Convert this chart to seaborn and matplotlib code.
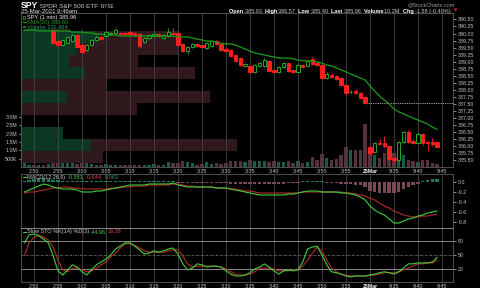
import numpy as np
import matplotlib
matplotlib.use("Agg")
import matplotlib.pyplot as plt
import matplotlib.transforms as mtrans
from matplotlib.patches import Rectangle
import seaborn as sns

# ---------------- data ----------------
tick_labels = ["2:50", "2:55", "3:00", "3:05", "3:10", "3:15", "3:20", "3:25", "3:30",
               "3:35", "3:40", "3:45", "3:50", "3:55", "25Mar", "9:35", "9:40", "9:45"]
first_tick_bar = 2
candle_start = 6

opens = [390.12, 389.73, 389.59, 389.66, 389.73, 389.95, 389.59, 389.41, 389.59, 389.77,
         389.88, 389.91, 389.98, 390.02, 390.02, 390.02, 390.05, 390.02, 389.98, 389.70,
         389.84, 389.91, 389.98, 389.84, 389.91, 390.02, 390.02, 389.63, 389.38, 389.52,
         389.63, 389.59, 389.49, 389.56, 389.73, 389.63, 389.45, 389.41, 389.24, 389.13,
         388.85, 388.85, 388.64, 388.85, 388.85, 389.03, 388.71, 388.64, 388.81, 388.95,
         388.71, 388.64, 388.88, 388.85, 389.10, 388.95, 388.88, 388.42, 388.53, 388.49,
         388.42, 388.17, 387.91, 387.96, 387.89, 387.75, 385.98, 385.80, 386.13, 386.10,
         386.00, 385.58, 385.50, 386.17, 386.50, 386.20, 386.13, 386.45, 386.17, 386.15, 386.15]
highs = [390.15, 389.77, 389.80, 389.91, 389.98, 389.98, 389.63, 389.63, 389.80, 389.95,
         389.91, 390.09, 390.05, 390.19, 390.05, 390.05, 390.09, 390.05, 390.02, 389.88,
         389.98, 390.02, 390.02, 389.98, 390.19, 390.19, 390.05, 389.66, 389.56, 389.66,
         389.66, 389.63, 389.70, 389.77, 389.77, 389.66, 389.49, 389.45, 389.27, 389.17,
         388.95, 388.88, 388.92, 388.99, 389.13, 389.06, 388.74, 388.85, 388.99, 388.99,
         388.74, 388.92, 388.92, 389.06, 389.17, 388.99, 388.92, 388.64, 388.60, 388.53,
         388.46, 388.20, 388.00, 388.03, 387.93, 387.78, 386.03, 386.15, 386.25, 386.35,
         386.05, 385.62, 386.20, 386.55, 386.57, 386.25, 386.48, 386.48, 386.20, 386.30, 386.20]
lows = [389.62, 389.55, 389.56, 389.63, 389.70, 389.49, 389.31, 389.38, 389.56, 389.73,
        389.77, 389.88, 389.95, 389.98, 389.95, 389.95, 389.95, 389.91, 389.49, 389.66,
        389.80, 389.88, 389.88, 389.80, 389.88, 389.95, 389.56, 389.34, 389.27, 389.49,
        389.52, 389.49, 389.45, 389.52, 389.59, 389.38, 389.34, 389.17, 388.99, 388.85,
        388.81, 388.60, 388.60, 388.81, 388.81, 388.64, 388.60, 388.60, 388.78, 388.64,
        388.60, 388.60, 388.78, 388.81, 388.88, 388.85, 388.39, 388.39, 388.42, 388.35,
        388.14, 387.86, 387.89, 387.86, 387.68, 387.50, 385.70, 385.75, 386.03, 385.95,
        385.50, 385.40, 385.47, 386.13, 386.13, 386.07, 386.10, 386.05, 385.85, 386.00, 385.93]
closes = [389.66, 389.59, 389.77, 389.88, 389.95, 389.52, 389.34, 389.59, 389.77, 389.88,
          389.80, 390.05, 390.02, 390.12, 389.98, 389.98, 389.98, 389.95, 389.56, 389.84,
          389.95, 389.98, 389.91, 389.95, 390.05, 389.98, 389.59, 389.38, 389.52, 389.63,
          389.56, 389.52, 389.66, 389.73, 389.63, 389.41, 389.38, 389.20, 389.03, 388.88,
          388.92, 388.64, 388.88, 388.95, 389.06, 388.67, 388.64, 388.81, 388.95, 388.67,
          388.64, 388.88, 388.81, 389.03, 388.92, 388.88, 388.42, 388.56, 388.46, 388.39,
          388.17, 387.89, 387.93, 387.89, 387.71, 387.54, 385.77, 386.13, 386.07, 386.00,
          385.55, 385.50, 386.17, 386.52, 386.17, 386.13, 386.45, 386.13, 386.10, 386.07, 385.96]
prev_close = 387.54

early_vol_up = [True, True, False, True, False, True]
volume_k = [270, 150, 150, 150, 150, 190, 350, 310, 290, 310,
            250, 210, 250, 250, 210, 150, 150, 210, 150, 110,
            110, 110, 150, 110, 150, 110, 150, 210, 150, 110,
            290, 250, 250, 350, 310, 250, 150, 210, 290, 190,
            250, 190, 250, 350, 350, 350, 290, 450, 390, 390,
            390, 290, 390, 290, 290, 350, 250, 390, 250, 290,
            610, 450, 790, 550, 450, 490, 750, 1190, 1050, 1010,
            1050, 2610, 1200, 750, 550, 850, 1150, 850, 1050, 750,
            450, 390, 290, 450, 450, 250, 210]

sma20 = [390.12, 390.12, 390.12, 390.09, 390.09, 390.09, 390.09, 390.09, 390.09, 390.09,
         390.05, 390.05, 390.05, 390.02, 390.02, 389.98, 389.98, 389.95, 389.95, 389.95,
         389.91, 389.91, 389.91, 389.91, 389.91, 389.91, 389.91, 389.91, 389.91, 389.91,
         389.91, 389.91, 389.88, 389.88, 389.88, 389.84, 389.80, 389.77, 389.73, 389.73,
         389.70, 389.66, 389.63, 389.63, 389.59, 389.52, 389.45, 389.38, 389.31, 389.27,
         389.24, 389.20, 389.17, 389.13, 389.13, 389.13, 389.10, 389.06, 389.03, 389.03,
         389.03, 388.99, 388.95, 388.88, 388.85, 388.78, 388.71, 388.64, 388.56, 388.49,
         388.42, 388.35, 388.14, 387.96, 387.78, 387.64, 387.50, 387.32, 387.22, 387.15,
         387.07, 387.00, 386.93, 386.86, 386.79, 386.68, 386.60]

vbp_bin_low = [385.400, 385.825, 386.250, 386.675, 387.100, 387.525,
               387.950, 388.375, 388.800, 389.225, 389.650, 390.075]
vbp_bin_size = 0.425
vbp_up_k = [0, 3500, 2100, 0, 0, 2300, 0, 3200, 2400, 2700, 3800, 1500]
vbp_down_k = [4100, 7300, 0, 0, 5800, 7150, 4250, 5500, 3450, 5150, 4050, 1000]

macd_line = [-0.20, -0.16, -0.12, -0.08, -0.04, -0.06, -0.10, -0.12, -0.14, -0.14,
             -0.14, -0.16, -0.20, -0.20, -0.20, -0.18, -0.18, -0.16, -0.14, -0.12,
             -0.10, -0.08, -0.06, -0.06, -0.06, -0.06, -0.04, -0.04, -0.04, -0.04,
             -0.04, -0.02, -0.06, -0.08, -0.10, -0.10, -0.10, -0.10, -0.10, -0.10,
             -0.12, -0.12, -0.12, -0.14, -0.16, -0.18, -0.20, -0.22, -0.24, -0.26,
             -0.26, -0.26, -0.26, -0.26, -0.26, -0.24, -0.24, -0.22, -0.20, -0.18,
             -0.18, -0.18, -0.20, -0.20, -0.20, -0.20, -0.22, -0.22, -0.24, -0.26,
             -0.30, -0.36, -0.48, -0.56, -0.62, -0.66, -0.74, -0.82, -0.82, -0.78,
             -0.74, -0.72, -0.68, -0.66, -0.62, -0.60, -0.581]
macd_signal = [-0.22, -0.20, -0.20, -0.18, -0.16, -0.14, -0.12, -0.12, -0.10, -0.10,
               -0.12, -0.12, -0.14, -0.14, -0.14, -0.14, -0.14, -0.14, -0.12, -0.12,
               -0.12, -0.10, -0.10, -0.08, -0.08, -0.08, -0.06, -0.06, -0.06, -0.06,
               -0.06, -0.04, -0.04, -0.06, -0.08, -0.08, -0.10, -0.10, -0.10, -0.10,
               -0.12, -0.12, -0.12, -0.14, -0.14, -0.16, -0.18, -0.18, -0.20, -0.22,
               -0.22, -0.22, -0.22, -0.22, -0.22, -0.22, -0.22, -0.22, -0.20, -0.20,
               -0.20, -0.20, -0.20, -0.20, -0.20, -0.20, -0.20, -0.22, -0.22, -0.24,
               -0.26, -0.28, -0.32, -0.36, -0.42, -0.48, -0.52, -0.58, -0.62, -0.66,
               -0.68, -0.70, -0.70, -0.68, -0.68, -0.66, -0.644]
macd_hist = [0.03, 0.04, 0.06, 0.08, 0.08, 0.07, 0.04, 0.04, 0.03, 0.03,
             0.03, 0.03, 0.02, 0.02, 0.02, 0.02, 0.02, 0.02, 0.03, 0.03,
             0.03, 0.03, 0.03, 0.03, 0.03, 0.03, 0.03, 0.03, 0.03, 0.03,
             0.03, 0.03, -0.02, -0.02, -0.02, -0.02, -0.02, -0.02, -0.02, -0.02,
             -0.02, -0.02, -0.02, -0.03, -0.03, -0.03, -0.03, -0.03, -0.03, -0.03,
             -0.03, -0.03, -0.03, -0.03, -0.03, -0.02, -0.02, -0.02, 0.02, 0.03,
             0.03, 0.03, 0.02, -0.01, -0.02, -0.02, -0.03, -0.03, -0.04, -0.05,
             -0.06, -0.09, -0.17, -0.20, -0.21, -0.22, -0.22, -0.22, -0.19, -0.14,
             -0.10, -0.06, -0.03, 0.03, 0.05, 0.06, 0.063]

sto_k = [76, 93, 95, 91, 84, 76, 48, 16, 7, 18,
         29, 24, 14, 7, 18, 29, 35, 41, 50, 63,
         69, 76, 76, 69, 61, 52, 54, 59, 56, 59,
         63, 65, 52, 31, 18, 22, 31, 29, 24, 26,
         26, 24, 16, 9, 5, 5, 7, 12, 20, 24,
         31, 24, 16, 9, 16, 18, 16, 18, 35, 63,
         67, 69, 50, 29, 14, 12, 9, 5, 3, 5,
         5, 5, 7, 9, 12, 14, 12, 9, 14, 22,
         31, 31, 33, 33, 33, 35, 44.96]
sto_d = [48, 76, 88, 93, 88, 82, 67, 39, 18, 14,
         22, 22, 18, 14, 16, 22, 29, 35, 46, 54,
         65, 74, 74, 71, 65, 59, 56, 56, 56, 56,
         59, 61, 61, 48, 31, 24, 26, 26, 26, 26,
         26, 24, 20, 14, 9, 7, 7, 9, 14, 22,
         22, 22, 20, 16, 16, 16, 18, 20, 26, 39,
         54, 67, 59, 39, 22, 14, 9, 7, 5, 5,
         5, 5, 7, 7, 9, 12, 12, 12, 14, 18,
         22, 26, 31, 31, 33, 33, 39.28]

# ---------------- style ----------------
RED = "#ff1f1f"
GREEN = "#26b326"
SMA_COL = "#1c9c1c"
LINE_G = "#3fd03f"
LINE_R = "#b32a2a"
GRID = "#454545"
SPINE = "#5a5a5a"
TXT = "#c8c8c8"

sns.set_theme(style="dark", rc={
    "axes.facecolor": "black", "figure.facecolor": "black", "savefig.facecolor": "black",
    "axes.edgecolor": SPINE, "axes.linewidth": 0.6, "text.color": TXT,
    "xtick.color": TXT, "ytick.color": TXT, "axes.grid": False,
})
plt.rcParams["font.family"] = ["Liberation Sans", "DejaVu Sans"]

W, H = 480, 288
fig = plt.figure(figsize=(4.8, 2.88), dpi=100)


def rect(x0, y0, x1, y1):
    return [x0 / W, 1 - y1 / H, (x1 - x0) / W, (y1 - y0) / H]


ax_price = fig.add_axes(rect(21, 13, 453, 167))
ax_vol = ax_price.twinx()
ax_macd = fig.add_axes(rect(21, 174, 453, 228))
ax_sto = fig.add_axes(rect(21, 228, 453, 282))

ax_vol.set_zorder(0)
ax_price.set_zorder(1)
ax_price.patch.set_visible(False)
ax_vol.patch.set_visible(False)

n_bars = len(volume_k)
bar_x = np.arange(n_bars)
candle_x = np.arange(candle_start, candle_start + len(opens))
tick_pos = first_tick_bar + 5 * np.arange(len(tick_labels))
day_break = tick_pos[tick_labels.index("25Mar")]
XLIM = (-0.7, 89.3)

# ---- volume by price (x in axes fraction) ----
vbp_trans = mtrans.blended_transform_factory(ax_price.transAxes, ax_price.transData)
vbp_scale = 2 * max(u + d for u, d in zip(vbp_up_k, vbp_down_k))
up_w = np.array(vbp_up_k) / vbp_scale
dn_w = np.array(vbp_down_k) / vbp_scale
ax_price.barh(vbp_bin_low, up_w, height=vbp_bin_size, left=0, align="edge",
              color="#0c3823", linewidth=0, transform=vbp_trans, zorder=0.2)
ax_price.barh(vbp_bin_low, dn_w, height=vbp_bin_size, left=up_w, align="edge",
              color="#30191d", linewidth=0, transform=vbp_trans, zorder=0.2)

# ---- volume bars ----
up_flags = early_vol_up + [c >= o for o, c in zip(opens, closes)]
vol_cols = ["#1b5c45" if u else "#55323a" for u in up_flags]
ax_vol.bar(bar_x, volume_k, width=0.72, color=vol_cols, linewidth=0)
ax_vol.set_ylim(0, 9240)
ax_vol.set_yticks([500, 1000, 1500, 2000, 2500, 3000])
ax_vol.set_yticklabels(["500K", "1.0M", "1.5M", "2.0M", "2.5M", "3.0M"])
ax_vol.yaxis.tick_left()
ax_vol.tick_params(axis="y", labelsize=3.8, length=1.5, pad=1, colors=TXT, width=0.5)
for s in ax_vol.spines.values():
    s.set_visible(False)
ax_vol.grid(False)

# ---- candles ----
for x, o, h, l, c in zip(candle_x, opens, highs, lows, closes):
    up = c >= o
    col = GREEN if up else RED
    ax_price.vlines(x, l, h, color=col, linewidth=0.6, zorder=3)
    ax_price.bar(x, max(abs(c - o), 0.012), bottom=min(o, c), width=0.7,
                 facecolor="black" if up else RED, edgecolor=col, linewidth=0.65, zorder=4)

sns.lineplot(x=bar_x, y=sma20, ax=ax_price, color=SMA_COL, linewidth=0.9,
             estimator=None, sort=False, legend=False, zorder=5)
ax_price.hlines(prev_close, day_break - 0.4, XLIM[1], colors="#b8b8a8",
                linestyles=(0, (1.5, 1.2)), linewidth=0.6, zorder=2)

ax_price.set_xlim(*XLIM)
ax_price.set_ylim(385.266, 390.727)
ax_price.yaxis.tick_right()
ax_price.set_yticks(np.arange(385.5, 390.51, 0.25))
ax_price.set_yticklabels([f"{v:.2f}" for v in np.arange(385.5, 390.51, 0.25)])
ax_price.set_xticks(tick_pos)
ax_price.set_xticklabels(tick_labels)
ax_price.tick_params(axis="y", labelsize=3.8, length=2, pad=1.2, colors=TXT, width=0.5)
ax_price.tick_params(axis="x", labelsize=3.8, length=0, pad=1.6, colors=TXT)
ax_price.grid(True, axis="x", color=GRID, linewidth=0.6)
ax_price.set_axisbelow(True)
ax_price.set_xlabel("")
ax_price.set_ylabel("")

# ---- MACD ----
hist_cols = ["#1d7a5c" if v >= 0 else "#7a4a52" for v in macd_hist]
ax_macd.bar(bar_x, macd_hist, width=0.7, color=hist_cols, linewidth=0, zorder=2)
sns.lineplot(x=bar_x, y=macd_signal, ax=ax_macd, color=LINE_R, linewidth=0.8,
             estimator=None, sort=False, legend=False, zorder=3)
sns.lineplot(x=bar_x, y=macd_line, ax=ax_macd, color=LINE_G, linewidth=0.8,
             estimator=None, sort=False, legend=False, zorder=4)
ax_macd.set_xlim(*XLIM)
ax_macd.set_ylim(-0.92, 0.16)
ax_macd.yaxis.tick_right()
ax_macd.set_yticks([0.0, -0.2, -0.4, -0.6, -0.8])
ax_macd.set_yticklabels(["0.0", "-0.2", "-0.4", "-0.6", "-0.8"])
ax_macd.set_xticks(tick_pos)
ax_macd.set_xticklabels([])
ax_macd.tick_params(axis="y", labelsize=3.8, length=2, pad=1.2, colors=TXT, width=0.5)
ax_macd.tick_params(axis="x", length=0)
ax_macd.grid(True, axis="x", color=GRID, linewidth=0.6)
ax_macd.set_axisbelow(True)
ax_macd.set_xlabel("")
ax_macd.set_ylabel("")
ax_macd.spines["bottom"].set_color("#9a9a9a")

# ---- Slow stochastic ----
ax_sto.axhline(80, color="#a0a0a0", linewidth=0.6, zorder=1)
ax_sto.axhline(20, color="#a0a0a0", linewidth=0.6, zorder=1)
ax_sto.axhline(50, color="#8a8a8a", linewidth=0.5, linestyle=(0, (3, 1.5, 1, 1.5)), zorder=1)
sns.lineplot(x=bar_x, y=sto_d, ax=ax_sto, color=LINE_R, linewidth=0.8,
             estimator=None, sort=False, legend=False, zorder=3)
sns.lineplot(x=bar_x, y=sto_k, ax=ax_sto, color=LINE_G, linewidth=0.8,
             estimator=None, sort=False, legend=False, zorder=4)
ax_sto.set_xlim(*XLIM)
ax_sto.set_ylim(-7.9, 107.9)
ax_sto.yaxis.tick_right()
ax_sto.set_yticks([20, 50, 80])
ax_sto.set_xticks(tick_pos)
ax_sto.set_xticklabels(tick_labels)
ax_sto.tick_params(axis="y", labelsize=3.8, length=2, pad=1.2, colors=TXT, width=0.5)
ax_sto.tick_params(axis="x", labelsize=3.8, length=0, pad=1.2, colors=TXT)
ax_sto.grid(True, axis="x", color=GRID, linewidth=0.6)
ax_sto.set_axisbelow(True)
ax_sto.set_xlabel("")
ax_sto.set_ylabel("")
ax_sto.spines["top"].set_color("#9a9a9a")

for a in (ax_price, ax_sto):
    for lbl in a.get_xticklabels():
        if lbl.get_text() == "25Mar":
            lbl.set_fontweight("bold")
            lbl.set_color("white")

# ---------------- texts ----------------
ax_bg = fig.add_axes([0, 0, 1, 1], zorder=10)
ax_bg.set_xlim(0, W)
ax_bg.set_ylim(H, 0)
ax_bg.axis("off")
renderer = fig.canvas.get_renderer()


def chain(x, y, pieces, size=4.0, right=False):
    """Lay out differently styled pieces on one baseline, measured left to right."""
    texts = []
    for txt, col, weight, sz in [(p[0], p[1], p[2], p[3] if len(p) > 3 else size) for p in pieces]:
        t = ax_bg.text(0, y, txt, color=col, fontsize=sz, fontweight=weight,
                       va="baseline", ha="left")
        texts.append(t)
    widths = [t.get_window_extent(renderer).width for t in texts]
    cur = x - sum(widths) if right else x
    for t, w in zip(texts, widths):
        t.set_x(cur)
        cur += w
    return texts


# header
chain(21, 8.3, [("SPY", "white", "bold", 6.2), (" SPDR S&P 500 ETF", TXT, "normal", 4.6),
                ("  NYSE", TXT, "normal", 3.4)])
ax_bg.text(21, 13.0, "25-Mar-2021 9:46am", color="#e0e0e0", fontsize=4.3, va="baseline")
ax_bg.text(455, 6.0, "@StockCharts.com", color="#9a9a9a", fontsize=4.0, va="baseline", ha="right")
chain(451, 12.6, [("Open ", "white", "bold"), ("385.93  ", TXT, "normal"),
                  ("High ", "white", "bold"), ("386.57  ", TXT, "normal"),
                  ("Low ", "white", "bold"), ("385.40  ", TXT, "normal"),
                  ("Last ", "white", "bold"), ("385.96  ", TXT, "normal"),
                  ("Volume ", "white", "bold"), ("10.2M  ", TXT, "normal"),
                  ("Chg ", "white", "bold"), ("-1.58 (-0.40%)", TXT, "normal")],
      size=4.0, right=True)
ax_bg.text(455.5, 11.0, "\u25BC", color=RED, fontsize=3.2, va="center", ha="center",
           family="DejaVu Sans")

# price legend (opaque box)
ax_bg.add_patch(Rectangle((21.8, 13.6), 64, 15.6, facecolor="black", edgecolor="none"))
ax_bg.add_patch(Rectangle((23.2, 15.6), 2.0, 3.6, facecolor="black", edgecolor=GREEN, linewidth=0.5))
ax_bg.text(27, 17.4, "SPY (1 min) 385.96", color="#e8e8e8", fontsize=4.1, va="center")
ax_bg.plot([22.8, 26.2], [22.4, 22.4], color=SMA_COL, linewidth=0.9)
ax_bg.text(27, 22.4, "SMA(20) 386.60", color=SMA_COL, fontsize=4.1, va="center")
ax_bg.add_patch(Rectangle((23.0, 25.6), 2.6, 2.8, facecolor="#1b6e4e", edgecolor="none"))
ax_bg.text(27, 27.0, "Volume 211,464", color="#2e9e6e", fontsize=4.1, va="center")

# MACD legend
ax_bg.plot([22.5, 26.0], [177.2, 177.2], color=LINE_G, linewidth=0.8)
chain(27, 178.6, [("MACD(12,26,9) ", TXT, "normal"), ("-0.581, ", LINE_G, "normal"),
                  ("-0.644, ", "#d04040", "normal"), ("0.063", "#2a9a72", "normal")], size=4.0)

# Stochastic legend
ax_bg.plot([22.5, 26.0], [231.6, 231.6], color=LINE_G, linewidth=0.8)
chain(27, 233.0, [("Slow STO %K(14) %D(3) ", TXT, "normal"), ("44.96, ", LINE_G, "normal"),
                  ("39.28", "#d04040", "normal")], size=4.0)

fig.savefig("out.png", dpi=100, facecolor="black")
